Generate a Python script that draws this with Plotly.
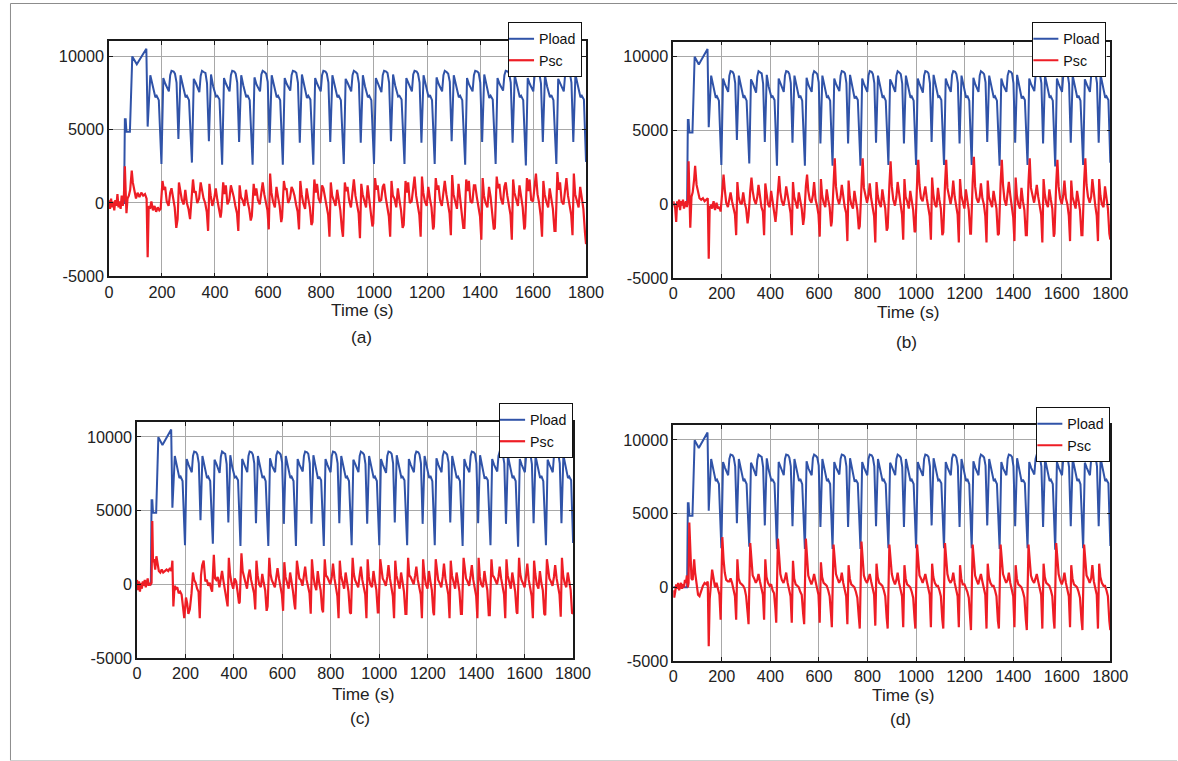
import plotly.graph_objects as go

# ---------------- data ----------------
# Load power (identical in all four panels)
t_load = [0, 57, 60, 63, 66, 79, 88, 105, 141, 146, 156, 164, 175, 180, 188,
          198, 205, 213, 226, 231, 236, 244, 249, 255, 262, 270, 278, 289, 294, 302,
          313, 320, 328, 341, 346, 351, 359, 364, 370, 377, 385, 393, 404, 409, 417,
          427, 434, 442, 455, 460, 465, 473, 478, 484, 491, 499, 507, 518, 523, 531,
          542, 549, 557, 570, 575, 580, 588, 593, 599, 606, 614, 622, 633, 638, 646,
          656, 663, 671, 684, 689, 694, 702, 707, 713, 720, 728, 736, 747, 752, 760,
          771, 778, 786, 799, 804, 809, 817, 822, 828, 835, 843, 851, 862, 867, 875,
          886, 893, 901, 914, 919, 924, 932, 937, 943, 950, 958, 966, 977, 982, 990,
          1000, 1007, 1015, 1028, 1033, 1038, 1046, 1051, 1057, 1064, 1072, 1080, 1091, 1096, 1104,
          1115, 1122, 1130, 1143, 1148, 1153, 1161, 1166, 1172, 1179, 1187, 1195, 1206, 1211, 1219,
          1229, 1236, 1244, 1257, 1262, 1267, 1275, 1280, 1286, 1293, 1301, 1309, 1320, 1325, 1333,
          1344, 1351, 1359, 1372, 1377, 1382, 1390, 1395, 1401, 1408, 1416, 1424, 1435, 1440, 1448,
          1459, 1466, 1474, 1487, 1492, 1497, 1505, 1510, 1516, 1523, 1531, 1539, 1550, 1555, 1563,
          1573, 1580, 1588, 1601, 1606, 1611, 1619, 1624, 1630, 1637, 1645, 1653, 1664, 1669, 1677,
          1688, 1695, 1703, 1716, 1721, 1726, 1734, 1739, 1745, 1752, 1760, 1768, 1779, 1784, 1792,
          1800]

p_load = [0, 0, 5700, 5700, 4850, 4850, 9980, 9450, 10500, 5200, 8700, 8000, 7200, 7300, 7000,
          2650, 8500, 8100, 7600, 8700, 9000, 8950, 8800, 8200, 4350, 8700, 8000, 7200, 7300, 7000,
          2750, 8450, 8150, 7550, 8650, 9000, 8900, 8850, 8150, 4200, 8750, 7950, 7250, 7300, 7050,
          2600, 8500, 8100, 7600, 8700, 9000, 8950, 8800, 8200, 4150, 8700, 8000, 7200, 7350, 7000,
          2600, 8550, 8050, 7600, 8750, 9000, 8900, 8800, 8250, 4100, 8700, 8050, 7200, 7300, 7000,
          2600, 8500, 8100, 7650, 8700, 9000, 8950, 8850, 8200, 4100, 8750, 8000, 7150, 7300, 7050,
          2600, 8500, 8100, 7600, 8700, 9000, 8950, 8800, 8200, 4150, 8700, 8000, 7200, 7300, 7000,
          2650, 8450, 8150, 7600, 8700, 9000, 8900, 8800, 8150, 4100, 8700, 7950, 7200, 7300, 7000,
          2650, 8500, 8100, 7550, 8700, 9000, 8950, 8850, 8200, 4200, 8750, 8000, 7250, 7300, 7050,
          2650, 8500, 8100, 7600, 8750, 9000, 8950, 8800, 8200, 4100, 8700, 8000, 7200, 7350, 7000,
          2650, 8550, 8100, 7600, 8700, 9000, 8900, 8800, 8250, 4200, 8700, 8050, 7200, 7300, 7000,
          2600, 8500, 8050, 7600, 8700, 9000, 8950, 8850, 8200, 4150, 8750, 8000, 7150, 7300, 7050,
          2650, 8500, 8100, 7650, 8700, 9000, 8950, 8800, 8200, 4100, 8700, 8000, 7200, 7300, 7000,
          2550, 8500, 8100, 7600, 8700, 9000, 8900, 8800, 8150, 4150, 8700, 7950, 7200, 7350, 7000,
          2650, 8450, 8100, 7600, 8700, 9000, 8950, 8850, 8200, 4150, 8750, 8000, 7200, 7300, 7050,
          2800]

# Supercapacitor power sample times (shared by the four panels)
t_psc = [0, 4, 8, 12, 16, 20, 24, 28, 32, 36, 40, 44, 48, 52, 56, 60, 63, 66, 70, 75,
         80, 86, 90, 96, 102, 108, 115, 122, 129, 136, 142, 146, 150, 155, 160, 166, 172, 178, 184, 190,
         195, 202, 207, 212, 218, 225, 231, 236, 242, 248, 254, 259, 264, 269, 275, 282, 288, 294, 300, 306,
         310, 317, 322, 327, 333, 340, 346, 351, 357, 363, 369, 374, 379, 384, 390, 397, 403, 409, 415, 421,
         424, 431, 436, 441, 447, 454, 460, 465, 471, 477, 483, 488, 493, 498, 504, 511, 517, 523, 529, 535,
         539, 546, 551, 556, 562, 569, 575, 580, 586, 592, 598, 603, 608, 613, 619, 626, 632, 638, 644, 650,
         653, 660, 665, 670, 676, 683, 689, 694, 700, 706, 712, 717, 722, 727, 733, 740, 746, 752, 758, 764,
         768, 775, 780, 785, 791, 798, 804, 809, 815, 821, 827, 832, 837, 842, 848, 855, 861, 867, 873, 879,
         883, 890, 895, 900, 906, 913, 919, 924, 930, 936, 942, 947, 952, 957, 963, 970, 976, 982, 988, 994,
         997, 1004, 1009, 1014, 1020, 1027, 1033, 1038, 1044, 1050, 1056, 1061, 1066, 1071, 1077, 1084, 1090, 1096, 1102, 1108,
         1112, 1119, 1124, 1129, 1135, 1142, 1148, 1153, 1159, 1165, 1171, 1176, 1181, 1186, 1192, 1199, 1205, 1211, 1217, 1223,
         1226, 1233, 1238, 1243, 1249, 1256, 1262, 1267, 1273, 1279, 1285, 1290, 1295, 1300, 1306, 1313, 1319, 1325, 1331, 1337,
         1341, 1348, 1353, 1358, 1364, 1371, 1377, 1382, 1388, 1394, 1400, 1405, 1410, 1415, 1421, 1428, 1434, 1440, 1446, 1452,
         1456, 1463, 1468, 1473, 1479, 1486, 1492, 1497, 1503, 1509, 1515, 1520, 1525, 1530, 1536, 1543, 1549, 1555, 1561, 1567,
         1570, 1577, 1582, 1587, 1593, 1600, 1606, 1611, 1617, 1623, 1629, 1634, 1639, 1644, 1650, 1657, 1663, 1669, 1675, 1681,
         1685, 1692, 1697, 1702, 1708, 1715, 1721, 1726, 1732, 1738, 1744, 1749, 1754, 1759, 1765, 1772, 1778, 1784, 1790, 1796,
         1800]

psc_a = [200, -400, 300, -300, 100, -500, 200, -200, 600, -300, 100, -400, 500, -200, 300, 2500, 800, -700, 300, 500,
         900, 2200, 1400, 900, 300, 700, 400, 700, 500, 600, 300, -3700, -200, -400, 100, -500, -200, -600, -300, -500,
         -400, 1500, 900, 1100, 100, -200, 700, 1000, 400, -300, -1700, -1100, 1400, 700, 200, -100, 900, 0, -400, -1100,
         -300, 1600, 700, 800, 0, 300, 1400, 800, 300, 0, -600, -1900, 1300, 500, -200, 300, 1000, 200, -300, -1000,
         -600, 1400, 600, 1200, -100, 200, 1200, 900, 400, -200, -700, -1900, 1200, 400, 200, -200, 900, 100, -400, -1200,
         -900, 1300, 500, 1000, 200, -100, 1000, 1400, 600, 0, -500, -1800, 2000, 700, 100, -300, 1100, 400, -200, -1300,
         -1000, 1500, 900, 1000, 0, 300, 1100, 900, 500, -100, -600, -1800, 1500, 600, 0, -400, 1000, 300, -300, -1500,
         -1300, 1600, 700, 1300, 300, 0, 1200, 1000, 400, -300, -800, -2300, 1400, 500, 200, -200, 900, 100, -500, -1800,
         -2300, 1400, 800, 1100, 200, -300, 1000, 1600, 500, 0, -700, -2400, 1300, 600, 100, -300, 1200, 300, -400, -1600,
         -1400, 1700, 900, 1200, 100, 200, 1100, 1300, 400, -200, -900, -2300, 1500, 500, 300, -300, 1000, 200, -500, -1700,
         -1500, 1500, 700, 1400, 0, 100, 1200, 1800, 500, -100, -800, -2300, 1800, 700, 100, -200, 1100, 300, -300, -1800,
         -1600, 1700, 900, 1200, 200, -200, 1000, 1500, 600, 0, -700, -2200, 1900, 600, 200, -400, 1300, 200, -400, -1700,
         -1700, 1600, 800, 1500, 100, 0, 1200, 1200, 400, -200, -900, -2500, 1700, 500, 0, -300, 1100, 400, -500, -1800,
         -1700, 1800, 1000, 1300, 300, -100, 1100, 1400, 500, -100, -800, -2500, 1600, 700, 200, -200, 1200, 300, -300, -1800,
         -1600, 1700, 800, 1600, 200, 100, 1300, 2000, 600, 0, -900, -2300, 1500, 600, 100, -300, 1000, 200, -400, -1900,
         -1900, 2100, 900, 1400, 100, -100, 1200, 1700, 500, -200, -800, -2200, 2000, 600, 200, -300, 1100, 300, -400, -2000,
         -2800]

psc_b = [200, 0, -300, -1200, 200, -200, 300, -400, 200, -100, 300, -300, 100, 200, -200, 300, 2900, 500, -1600, 500,
         800, 1700, 2600, 1300, 800, 400, 300, 400, 200, 300, 400, -3700, -200, -100, -300, 200, -400, 100, -300, -200,
         -500, 900, 2000, 1000, 100, -200, 400, 800, 200, -300, -700, -2100, 1500, 500, 100, 0, 800, 100, -300, -1300,
         -800, 900, 1800, 900, 300, 0, 500, 1300, 400, -200, -500, -2100, 1400, 600, 0, -200, 900, 200, -400, -1200,
         -700, 1000, 1900, 800, 200, -100, 400, 1200, 500, 0, -600, -2100, 1500, 500, 200, -300, 800, 100, -300, -1400,
         -900, 1200, 2000, 900, 300, 100, 600, 1500, 300, -100, -700, -2200, 1700, 600, 100, -200, 1000, 300, -200, -1500,
         -1200, 1300, 3100, 1200, 400, 0, 500, 1300, 500, -200, -600, -2500, 1600, 500, 0, -300, 900, 200, -400, -1700,
         -1500, 1200, 3100, 1100, 500, 100, 600, 1400, 400, -100, -800, -2600, 1500, 600, 100, -200, 1000, 300, -300, -1800,
         -1600, 1300, 2900, 1200, 300, -100, 500, 1500, 600, 0, -700, -2400, 1700, 500, 200, -300, 900, 200, -400, -1900,
         -1800, 1400, 3000, 1300, 400, 200, 700, 1200, 400, -200, -800, -2400, 1800, 700, 0, -200, 1100, 300, -300, -2100,
         -1900, 1300, 3000, 1100, 500, 0, 600, 1600, 500, -100, -700, -2600, 1700, 600, 100, -300, 1000, 200, -400, -2000,
         -2000, 1500, 3200, 1200, 400, 100, 500, 1400, 400, 0, -800, -2600, 1600, 500, 200, -200, 900, 300, -300, -2100,
         -2000, 1400, 3000, 1300, 300, -100, 600, 1500, 600, -100, -900, -2500, 1800, 600, 0, -300, 1100, 200, -400, -2100,
         -2100, 1500, 3100, 1100, 500, 100, 700, 1300, 500, -200, -700, -2600, 1700, 700, 100, -200, 1000, 300, -300, -2200,
         -2000, 1400, 3000, 1200, 400, 0, 600, 1600, 400, 0, -800, -2500, 1600, 500, 200, -300, 900, 200, -400, -2100,
         -2100, 1500, 3100, 1300, 500, 100, 500, 1700, 500, -100, -800, -2500, 1700, 600, 0, -200, 1200, 300, -300, -2000,
         -2400]

psc_c = [300, -400, 200, -500, 100, -300, 200, -100, 300, -200, 100, 400, -100, 100, 0, 100, 4300, 1500, 1700, 1000,
         1900, 1200, 900, 800, 1000, 800, 900, 1000, 900, 1100, 900, 1600, -1500, -100, -300, -200, -600, -500, -700, -1400,
         -2300, -900, -1300, -2000, -1700, -600, 800, 300, 100, -300, -500, -2300, 600, 1300, 1600, 200, 300, -100, 100, -300,
         -500, 2000, 400, 300, 500, -200, 500, 900, 200, -400, -700, -1500, 1800, 700, 100, -300, 400, 200, -500, -1300,
         -1200, 2100, 900, 500, 200, -300, 600, 1000, 300, -300, -600, -1700, 1600, 600, 0, -200, 700, 100, -400, -1800,
         -1500, 1800, 700, 300, 100, -200, 500, 1100, 400, -200, -700, -1800, 1500, 500, 100, -300, 800, 200, -500, -1400,
         -1700, 1600, 800, 400, 300, -100, 600, 1200, 300, -300, -600, -2000, 1700, 700, 0, -400, 900, 100, -400, -1700,
         -1900, 1700, 600, 500, 200, 0, 500, 1400, 400, -200, -800, -2300, 1600, 600, 100, -300, 800, 200, -500, -1900,
         -2000, 1800, 700, 300, 100, -200, 600, 1200, 300, -300, -700, -2300, 1700, 500, 0, -200, 900, 200, -400, -1900,
         -1900, 1700, 800, 400, 200, -100, 500, 1300, 400, -200, -800, -2300, 1600, 600, 100, -300, 800, 100, -500, -2000,
         -2000, 1800, 600, 500, 300, 0, 600, 1200, 300, -300, -700, -2300, 1700, 700, 0, -300, 900, 200, -400, -1900,
         -2100, 1700, 700, 300, 100, -200, 500, 1400, 400, -200, -700, -2300, 1600, 600, 200, -300, 800, 100, -500, -2000,
         -2000, 1800, 800, 400, 200, -100, 600, 1300, 300, -300, -800, -2300, 1800, 500, 0, -200, 900, 200, -400, -2100,
         -2100, 1700, 600, 500, 300, 0, 500, 1200, 400, -200, -700, -2300, 1700, 600, 100, -300, 800, 200, -500, -1900,
         -2000, 1800, 700, 300, 100, -200, 600, 1400, 300, -300, -800, -2300, 1600, 700, 0, -300, 900, 100, -400, -2000,
         -2100, 1700, 800, 400, 200, -100, 500, 1300, 400, -200, -700, -2200, 1800, 600, 100, -200, 800, 200, -400, -2000,
         -1900]

psc_d = [-200, -700, -300, 200, -100, 300, -200, 100, 300, -100, 200, 0, 500, 300, 800, 0, 300, 4400, 2000, 600,
         500, 1900, 1000, 400, -500, -600, -200, 100, 300, 200, 400, -4000, -800, 300, 1200, 600, 0, 300, -200, -500,
         -2200, 3400, 1900, 1000, 500, 400, 400, 600, 300, -300, -600, -2200, 1900, 600, 300, 200, 100, -100, -600, -1700,
         -2500, 3000, 1800, 800, 600, 300, 500, 900, 400, -200, -500, -2200, 1900, 700, 300, 100, 200, -200, -400, -1600,
         -2400, 3300, 1700, 900, 500, 300, 600, 1000, 300, -200, -600, -2400, 1800, 600, 200, 100, 0, -300, -500, -1800,
         -2500, 3300, 1800, 800, 500, 200, 500, 900, 400, -100, -500, -2400, 1700, 700, 300, 200, 100, -200, -600, -1900,
         -2700, 2900, 1700, 900, 600, 300, 500, 1000, 300, -200, -600, -2500, 1500, 600, 200, 100, 0, -300, -700, -2000,
         -2800, 3100, 1600, 800, 500, 300, 600, 900, 400, -200, -500, -2600, 1600, 700, 300, 200, 100, -200, -600, -2100,
         -2800, 2900, 1700, 900, 500, 200, 500, 1000, 300, -100, -600, -2700, 1500, 600, 200, 100, 0, -300, -700, -2200,
         -2800, 2900, 1600, 800, 600, 300, 600, 900, 400, -200, -500, -2700, 1600, 700, 300, 100, 100, -200, -600, -2200,
         -2800, 3000, 1700, 900, 500, 300, 500, 1000, 300, -200, -600, -2700, 1500, 600, 200, 200, 0, -300, -700, -2300,
         -2900, 2900, 1600, 800, 500, 200, 600, 900, 400, -100, -500, -2800, 1600, 700, 300, 100, 100, -200, -600, -2300,
         -2800, 2900, 1700, 900, 600, 300, 500, 1000, 300, -200, -600, -2700, 1500, 600, 200, 100, 0, -300, -700, -2200,
         -2900, 2900, 1600, 800, 500, 300, 600, 900, 400, -200, -500, -2800, 1600, 700, 300, 200, 100, -200, -600, -2300,
         -2800, 3000, 1700, 900, 500, 200, 500, 1000, 300, -100, -600, -2700, 1500, 600, 200, 100, 0, -300, -700, -2200,
         -2900, 2900, 1600, 800, 600, 300, 600, 1500, 400, -200, -500, -2800, 1600, 700, 300, 100, 100, -200, -600, -2300,
         -2900]

panel_labels = ["(a)", "(b)", "(c)", "(d)"]
x_ticks = [0, 200, 400, 600, 800, 1000, 1200, 1400, 1600, 1800]
y_ticks = [-5000, 0, 5000, 10000]
y_tick_text = ["-5000", "0", "5000", "10000"]
series_names = ["Pload", "Psc"]

# ---------------- figure ----------------
# layout coordinates below are measured on the 1178x761 reference;
# the page is sized slightly larger because the capture shrinks it ~1.4 %
REF_W, REF_H = 1178, 761
K = 1.0142
W, H = round(REF_W * K), round(REF_H * K)
FONT = "Liberation Sans, Arial, Helvetica, sans-serif"
BLUE = "#3053a8"
RED = "#ee1d25"

def px(x):
    return x / REF_W

def py(y):
    return 1 - y / REF_H

def fs(s):
    return s * K

# plot-area pixel boxes (left, right, top, bottom)
boxes = [(104.5, 584, 41.3, 275.7),
         (671.7, 1111, 41.5, 277.3),
         (132.7, 571, 421, 656.3),
         (671.7, 1111, 424, 659.3)]
legend_pos = [(580, 22), (1107, 22), (571, 402), (1111, 406)]
title_pos = [(359, 309), (908, 311), (360, 692), (903, 693)]
label_pos = [(358, 336), (906, 341), (357, 716), (900, 717)]

fig = go.Figure()
psc_all = [psc_a, psc_b, psc_c, psc_d]
layout_upd = {}
annotations = []
for i in range(4):
    sfx = "" if i == 0 else str(i + 1)
    xa, ya = "x" + sfx, "y" + sfx
    lg = "legend" + sfx
    fig.add_trace(go.Scatter(x=t_load, y=p_load, mode="lines", name=series_names[0],
                             line=dict(color=BLUE, width=2), xaxis=xa, yaxis=ya, legend=lg))
    fig.add_trace(go.Scatter(x=t_psc, y=psc_all[i], mode="lines", name=series_names[1],
                             line=dict(color=RED, width=2.2), xaxis=xa, yaxis=ya, legend=lg))
    l, r, t, b = boxes[i]
    layout_upd["xaxis" + sfx] = dict(
        domain=[px(l), px(r)], anchor=ya, range=[0, 1800], tickvals=x_ticks,
        showgrid=True, gridcolor="#a8a8a8", gridwidth=1, zeroline=False,
        showline=True, linecolor="#1a1a1a", linewidth=1.5, mirror="ticks",
        ticks="inside", ticklen=4, tickcolor="#1a1a1a",
        tickfont=dict(family=FONT, size=fs(16), color="#222222"))
    layout_upd["yaxis" + sfx] = dict(
        domain=[py(b), py(t)], anchor=xa, range=[-5000, 11000],
        tickvals=y_ticks, ticktext=y_tick_text,
        showgrid=True, gridcolor="#a8a8a8", gridwidth=1, zeroline=False,
        showline=True, linecolor="#1a1a1a", linewidth=1.5, mirror="ticks",
        ticks="inside", ticklen=4, tickcolor="#1a1a1a",
        tickfont=dict(family=FONT, size=fs(16), color="#222222"))
    lx, ly = legend_pos[i]
    layout_upd[lg] = dict(x=px(lx), y=py(ly), xanchor="right", yanchor="top",
                          bgcolor="white", bordercolor="#111111", borderwidth=1,
                          font=dict(family=FONT, size=fs(14), color="#111111"),
                          itemwidth=30, tracegroupgap=0, indentation=-10)
    tx, ty = title_pos[i]
    annotations.append(dict(x=px(tx), y=py(ty), xref="paper", yref="paper",
                            xanchor="center", yanchor="middle",
                            text="Time (s)", showarrow=False,
                            font=dict(family=FONT, size=fs(17), color="#222222")))
    ax_, ay_ = label_pos[i]
    annotations.append(dict(x=px(ax_), y=py(ay_), xref="paper", yref="paper",
                            xanchor="center", yanchor="middle",
                            text=panel_labels[i], showarrow=False,
                            font=dict(family=FONT, size=fs(17), color="#222222")))

frame = dict(color="#8c8c8c", width=1)
fig.update_layout(**layout_upd)
fig.update_layout(
    width=W, height=H, margin=dict(l=0, r=0, t=0, b=0, pad=0),
    paper_bgcolor="white", plot_bgcolor="white",
    annotations=annotations,
    shapes=[dict(type="line", xref="paper", yref="paper", x0=px(5.5), x1=1, y0=py(3.5), y1=py(3.5), line=frame),
            dict(type="line", xref="paper", yref="paper", x0=px(5.5), x1=px(5.5), y0=py(3.5), y1=py(758.5), line=frame),
            dict(type="line", xref="paper", yref="paper", x0=px(5.5), x1=1, y0=py(758.5), y1=py(758.5),
                 line=dict(color="#d0d0d0", width=1))],
)

fig.write_html("out.html", config={"displayModeBar": False},
               post_script="document.body.style.margin='0';document.body.style.padding='0';")
